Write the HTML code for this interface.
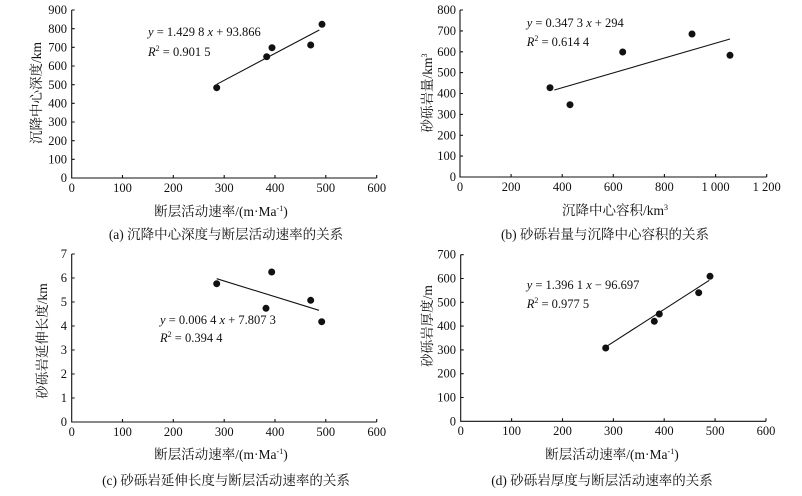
<!DOCTYPE html>
<html><head><meta charset="utf-8"><style>
html,body{margin:0;padding:0;background:#fff}
svg{display:block}
text{font-family:"Liberation Serif","Noto Serif CJK SC",serif;fill:#111;font-size:12.5px}
.z{font-size:13.5px}
line,path{stroke:#111;stroke-width:1.1;fill:none}
circle{fill:#111}
</style></head><body>
<svg width="802" height="496" viewBox="0 0 802 496" xmlns="http://www.w3.org/2000/svg">
<!-- Panel a -->
<g>
<path d="M71.7 10 V178 H376.7"/>
<path d="M71.7 159.3h3M71.7 140.7h3M71.7 122h3M71.7 103.3h3M71.7 84.7h3M71.7 66h3M71.7 47.3h3M71.7 28.7h3M71.7 10h3"/>
<path d="M122.5 178v-3M173.3 178v-3M224.2 178v-3M275 178v-3M325.8 178v-3M376.7 178v-3"/>
<g text-anchor="end">
<text x="67" y="182">0</text><text x="67" y="163.5">100</text><text x="67" y="145">200</text><text x="67" y="126">300</text><text x="67" y="107.5">400</text><text x="67" y="89">500</text><text x="67" y="70">600</text><text x="67" y="51.5">700</text><text x="67" y="33">800</text><text x="67" y="14">900</text>
</g>
<g text-anchor="middle">
<text x="71.7" y="192">0</text><text x="122.5" y="192">100</text><text x="173.3" y="192">200</text><text x="224.2" y="192">300</text><text x="275" y="192">400</text><text x="325.8" y="192">500</text><text x="376.7" y="192">600</text>
<text class="z" x="221" y="216">断层活动速率/(m·Ma<tspan font-size="8" dy="-5">-1</tspan><tspan dy="5">)</tspan></text>
<text class="z" x="226" y="239">(a) 沉降中心深度与断层活动速率的关系</text>
<text class="z" transform="translate(41 93) rotate(-90)">沉降中心深度/km</text>
</g>
<line x1="216.7" y1="84.3" x2="319.3" y2="30"/>
<circle cx="216.7" cy="87.7" r="3.5"/><circle cx="266.7" cy="56.7" r="3.5"/><circle cx="272" cy="47.7" r="3.5"/><circle cx="310.7" cy="45" r="3.5"/><circle cx="322" cy="24.3" r="3.5"/>
<text x="148" y="36"><tspan font-style="italic">y</tspan> = 1.429 8 <tspan font-style="italic">x</tspan> + 93.866</text>
<text x="148" y="56"><tspan font-style="italic">R</tspan><tspan font-size="8" dy="-5">2</tspan><tspan dy="5"> = 0.901 5</tspan></text>
</g>
<!-- Panel b -->
<g>
<path d="M460 10 V177 H766.7"/>
<path d="M460 156.1h3M460 135.3h3M460 114.4h3M460 93.5h3M460 72.6h3M460 51.8h3M460 30.9h3M460 10h3"/>
<path d="M511.1 177v-3M562.2 177v-3M613.3 177v-3M664.4 177v-3M715.6 177v-3M766.7 177v-3"/>
<g text-anchor="end">
<text x="456" y="181">0</text><text x="456" y="160">100</text><text x="456" y="139.3">200</text><text x="456" y="118.4">300</text><text x="456" y="97.5">400</text><text x="456" y="76.6">500</text><text x="456" y="55.8">600</text><text x="456" y="34.9">700</text><text x="456" y="14">800</text>
</g>
<g text-anchor="middle">
<text x="460" y="191">0</text><text x="511.1" y="191">200</text><text x="562.2" y="191">400</text><text x="613.3" y="191">600</text><text x="664.4" y="191">800</text><text x="715.6" y="191">1 000</text><text x="766.7" y="191">1 200</text>
<text class="z" x="615" y="215">沉降中心容积/km<tspan font-size="8" dy="-5">3</tspan></text>
<text class="z" x="605" y="239">(b) 砂砾岩量与沉降中心容积的关系</text>
<text class="z" transform="translate(432 93) rotate(-90)">砂砾岩量/km<tspan font-size="8" dy="-5">3</tspan></text>
</g>
<line x1="554.3" y1="90" x2="730" y2="39"/>
<circle cx="550" cy="87.7" r="3.5"/><circle cx="570" cy="104.7" r="3.5"/><circle cx="622.7" cy="52" r="3.5"/><circle cx="692" cy="34" r="3.5"/><circle cx="730" cy="55.3" r="3.5"/>
<text x="526.7" y="27"><tspan font-style="italic">y</tspan> = 0.347 3 <tspan font-style="italic">x</tspan> + 294</text>
<text x="526.7" y="46"><tspan font-style="italic">R</tspan><tspan font-size="8" dy="-5">2</tspan><tspan dy="5"> = 0.614 4</tspan></text>
</g>
<!-- Panel c -->
<g>
<path d="M71.7 254 V422 H376.7"/>
<path d="M71.7 398h3M71.7 374h3M71.7 350h3M71.7 326h3M71.7 302h3M71.7 278h3M71.7 254h3"/>
<path d="M122.5 422v-3M173.3 422v-3M224.2 422v-3M275 422v-3M325.8 422v-3M376.7 422v-3"/>
<g text-anchor="end">
<text x="67" y="426">0</text><text x="67" y="402">1</text><text x="67" y="378">2</text><text x="67" y="354">3</text><text x="67" y="330">4</text><text x="67" y="306">5</text><text x="67" y="282">6</text><text x="67" y="258">7</text>
</g>
<g text-anchor="middle">
<text x="71.7" y="436">0</text><text x="122.5" y="436">100</text><text x="173.3" y="436">200</text><text x="224.2" y="436">300</text><text x="275" y="436">400</text><text x="325.8" y="436">500</text><text x="376.7" y="436">600</text>
<text class="z" x="221" y="459">断层活动速率/(m·Ma<tspan font-size="8" dy="-5">-1</tspan><tspan dy="5">)</tspan></text>
<text class="z" x="226" y="485">(c) 砂砾岩延伸长度与断层活动速率的关系</text>
<text class="z" transform="translate(47 341) rotate(-90)">砂砾岩延伸长度/km</text>
</g>
<line x1="216.7" y1="278.7" x2="319" y2="310.3"/>
<circle cx="216.7" cy="283.7" r="3.5"/><circle cx="266" cy="308.3" r="3.5"/><circle cx="271.7" cy="272" r="3.5"/><circle cx="310.7" cy="300.3" r="3.5"/><circle cx="321.7" cy="321.7" r="3.5"/>
<text x="160" y="324"><tspan font-style="italic">y</tspan> = 0.006 4 <tspan font-style="italic">x</tspan> + 7.807 3</text>
<text x="160" y="342"><tspan font-style="italic">R</tspan><tspan font-size="8" dy="-5">2</tspan><tspan dy="5"> = 0.394 4</tspan></text>
</g>
<!-- Panel d -->
<g>
<path d="M460.7 254.7 V421.3 H766"/>
<path d="M460.7 397.5h3M460.7 373.7h3M460.7 349.9h3M460.7 326.1h3M460.7 302.3h3M460.7 278.5h3M460.7 254.7h3"/>
<path d="M511.6 421.3v-3M562.5 421.3v-3M613.4 421.3v-3M664.2 421.3v-3M715.1 421.3v-3M766 421.3v-3"/>
<g text-anchor="end">
<text x="456" y="425.3">0</text><text x="456" y="401.5">100</text><text x="456" y="377.7">200</text><text x="456" y="353.9">300</text><text x="456" y="330.1">400</text><text x="456" y="306.3">500</text><text x="456" y="282.5">600</text><text x="456" y="258.7">700</text>
</g>
<g text-anchor="middle">
<text x="460.7" y="435">0</text><text x="511.6" y="435">100</text><text x="562.5" y="435">200</text><text x="613.4" y="435">300</text><text x="664.2" y="435">400</text><text x="715.1" y="435">500</text><text x="766" y="435">600</text>
<text class="z" x="612" y="459">断层活动速率/(m·Ma<tspan font-size="8" dy="-5">-1</tspan><tspan dy="5">)</tspan></text>
<text class="z" x="602" y="485">(d) 砂砾岩厚度与断层活动速率的关系</text>
<text class="z" transform="translate(432 326) rotate(-90)">砂砾岩厚度/m</text>
</g>
<line x1="606.7" y1="346.3" x2="709.3" y2="280.3"/>
<circle cx="605.7" cy="348" r="3.5"/><circle cx="654.3" cy="321.3" r="3.5"/><circle cx="659.3" cy="314" r="3.5"/><circle cx="698.7" cy="292.7" r="3.5"/><circle cx="710" cy="276.3" r="3.5"/>
<text x="526.7" y="289"><tspan font-style="italic">y</tspan> = 1.396 1 <tspan font-style="italic">x</tspan> − 96.697</text>
<text x="526.7" y="308"><tspan font-style="italic">R</tspan><tspan font-size="8" dy="-5">2</tspan><tspan dy="5"> = 0.977 5</tspan></text>
</g>
</svg>
</body></html>
